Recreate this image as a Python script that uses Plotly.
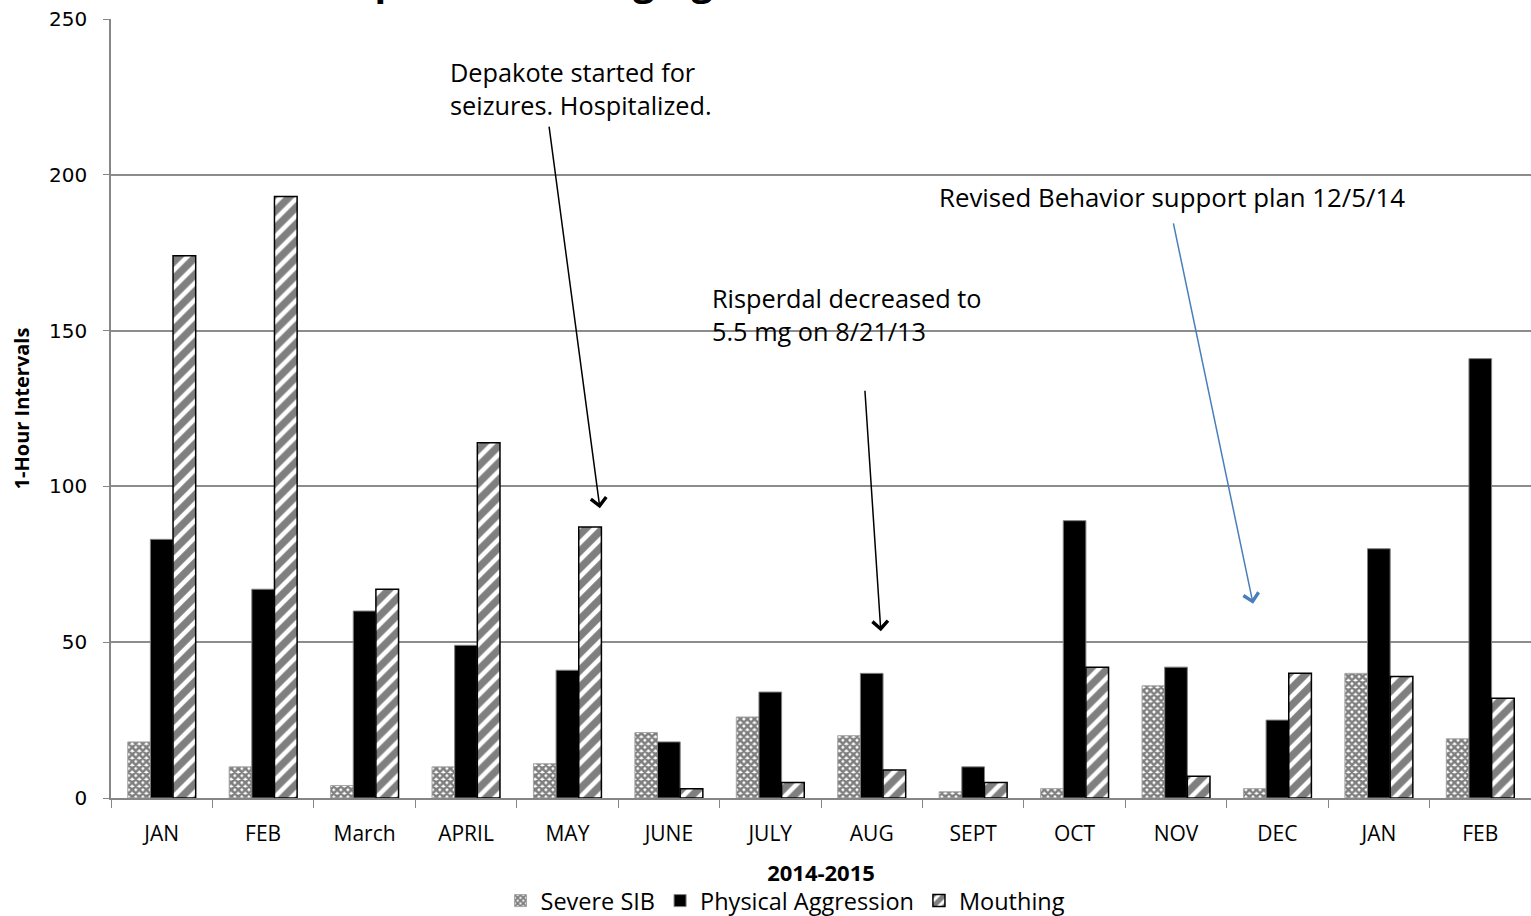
import plotly.graph_objects as go

months = ["JAN", "FEB", "March", "APRIL", "MAY", "JUNE", "JULY", "AUG", "SEPT", "OCT", "NOV", "DEC", "JAN", "FEB"]
severe_sib = [18, 10, 4, 10, 11, 21, 26, 20, 2, 3, 36, 3, 40, 19]
physical_aggression = [83, 67, 60, 49, 41, 18, 34, 40, 10, 89, 42, 25, 80, 141]
mouthing = [174, 193, 67, 114, 87, 3, 5, 9, 5, 42, 7, 40, 39, 32]
y_ticks = [0, 50, 100, 150, 200, 250]

x_pos = list(range(len(months)))
TXT = "Open Sans"

fig = go.Figure()
fig.add_trace(go.Bar(
    x=x_pos, y=severe_sib, name="Severe SIB",
    marker=dict(color="white",
                pattern=dict(shape="x", fgcolor="black", bgcolor="white", size=5, solidity=0.75),
                line=dict(color="#a6a6a6", width=1)),
))
fig.add_trace(go.Bar(
    x=x_pos, y=physical_aggression, name="Physical Aggression",
    marker=dict(color="black", line=dict(color="#7f7f7f", width=1)),
))
fig.add_trace(go.Bar(
    x=x_pos, y=mouthing, name="Mouthing",
    marker=dict(color="white",
                pattern=dict(shape="/", fgcolor="black", bgcolor="white", size=12, solidity=0.62),
                line=dict(color="black", width=1.5)),
))

fig.update_layout(
    width=1531, height=916,
    margin=dict(l=111, r=0, t=19, b=118, autoexpand=False),
    paper_bgcolor="white", plot_bgcolor="white",
    barmode="group", bargap=0.33, bargroupgap=0,
    showlegend=True,
    legend=dict(orientation="h", x=0.475, xanchor="center", y=-0.132, yanchor="middle",
                font=dict(family=TXT, size=23.5, color="black"),
                itemwidth=30, tracegroupgap=0),
    font=dict(family=TXT, color="black"),
)

fig.update_xaxes(
    range=[-0.5, 13.5],
    tickmode="array", tickvals=x_pos, ticktext=months,
    ticks="", showgrid=False,
    tickfont=dict(family=TXT, size=21, color="black"),
    ticklabelstandoff=16,
    showline=True, linecolor="#868686", linewidth=1.5,
    minor=dict(tickmode="linear", tick0=0.5, dtick=1, ticks="outside", ticklen=8,
               tickcolor="#868686", showgrid=False),
    title=dict(text="<b>2014-2015</b>", font=dict(family=TXT, size=22, color="black"), standoff=20),
    zeroline=False,
)
fig.update_yaxes(
    range=[0, 250],
    tickmode="array", tickvals=y_ticks,
    ticks="outside", ticklen=6, tickcolor="#868686",
    tickfont=dict(family="DejaVu Sans", size=20, color="black"),
    ticklabelstandoff=12,
    showgrid=True, gridcolor="#8c8c8c", gridwidth=1.5,
    showline=True, linecolor="#868686", linewidth=1.5,
    zeroline=False,
    title=dict(text="<b>1-Hour Intervals</b>", font=dict(family=TXT, size=20, color="black"), standoff=14),
)

# partially cut-off title at the top edge
fig.add_annotation(
    text="<b>Example of Challenging Behavior Data and Interventions</b>",
    xref="paper", yref="paper", x=0.49, y=1.05, yanchor="middle", xanchor="center",
    showarrow=False, font=dict(family=TXT, size=38, color="black"),
)

fig.add_annotation(
    text="Depakote started for<br>seizures. Hospitalized.",
    xref="paper", yref="paper", x=(448 - 111) / 1420, y=(798 - 89) / 779,
    xanchor="left", yanchor="middle", align="left", showarrow=False,
    font=dict(family=TXT, size=25.3, color="black"),
)
fig.add_annotation(
    text="Risperdal decreased to<br>5.5 mg on 8/21/13",
    xref="paper", yref="paper", x=(710 - 111) / 1420, y=(798 - 315) / 779,
    xanchor="left", yanchor="middle", align="left", showarrow=False,
    font=dict(family=TXT, size=25.3, color="black"),
)
fig.add_annotation(
    text="Revised Behavior support plan 12/5/14",
    xref="paper", yref="paper", x=(937 - 111) / 1420, y=(798 - 197) / 779,
    xanchor="left", yanchor="middle", align="left", showarrow=False,
    font=dict(family=TXT, size=25.8, color="black"),
)

# arrows
fig.add_annotation(x=4.32, y=93, xref="x", yref="y", text="", showarrow=True,
                   ax=-51, ay=-383, arrowhead=4, arrowsize=2, arrowwidth=1.5, arrowcolor="black")
fig.add_annotation(x=7.09, y=53.5, xref="x", yref="y", text="", showarrow=True,
                   ax=-16, ay=-242, arrowhead=4, arrowsize=2, arrowwidth=1.5, arrowcolor="black")
fig.add_annotation(x=10.76, y=62.3, xref="x", yref="y", text="", showarrow=True,
                   ax=-80, ay=-382, arrowhead=4, arrowsize=2, arrowwidth=1.5, arrowcolor="#4a7ebb")

fig.write_html("out.html", config={"displayModeBar": False},
               post_script="document.body.style.margin='0';document.body.style.overflow='hidden';")
